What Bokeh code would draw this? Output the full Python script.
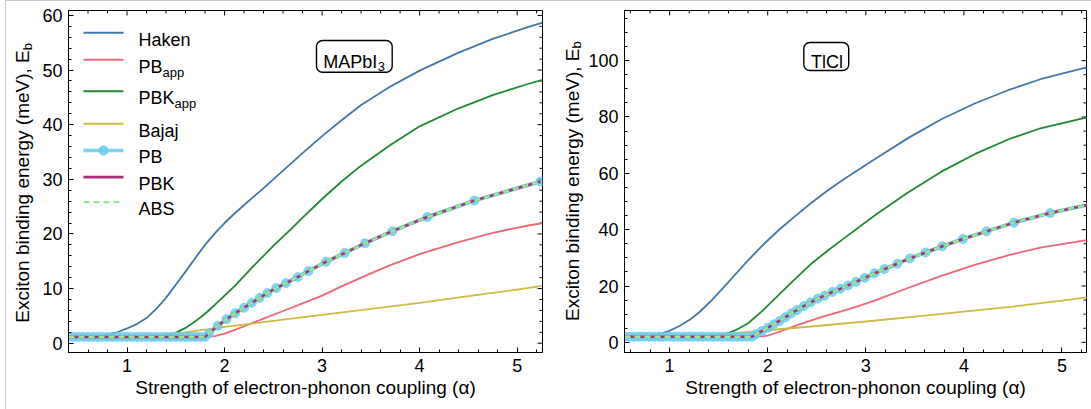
import math
from bokeh.plotting import figure
from bokeh.models import Range1d, SingleIntervalTicker, Label, BoxAnnotation
from bokeh.layouts import row
from bokeh.embed import file_html
from bokeh.resources import INLINE
from bokeh.core.properties import value

FONT = "Liberation Sans"

# ---------------- data: MAPbI3 (left panel) ----------------
mapi_haken_x = [0.40, 0.60, 0.70, 0.80, 0.90, 1.00, 1.10, 1.20, 1.30, 1.40, 1.50, 1.60, 1.70, 1.80, 1.90,
                2.00, 2.10, 2.20, 2.40, 2.60, 2.80, 3.00, 3.20, 3.40, 3.70, 4.00, 4.40, 4.75, 5.10, 5.26]
mapi_haken_y = [1.16, 1.17, 1.25, 1.55, 2.0, 2.7, 3.5, 4.6, 6.3, 8.3, 10.7, 13.1, 15.6, 18.0, 20.1,
                22.0, 23.7, 25.3, 28.4, 31.6, 34.8, 37.9, 40.8, 43.6, 47.0, 49.9, 53.2, 55.7, 57.8, 58.7]

mapi_pbapp_x = [0.40, 1.80, 1.90, 2.00, 2.10, 2.20, 2.30, 2.40, 2.60, 2.80, 3.00, 3.20, 3.40, 3.70,
                4.00, 4.40, 4.75, 5.10, 5.26]
mapi_pbapp_y = [1.16, 1.16, 1.3, 1.75, 2.4, 3.1, 3.8, 4.5, 5.9, 7.3, 8.7, 10.4, 12.0, 14.3,
                16.3, 18.5, 20.2, 21.5, 22.0]

mapi_pbkapp_x = [0.40, 1.30, 1.40, 1.50, 1.60, 1.70, 1.80, 1.90, 2.00, 2.10, 2.20, 2.30, 2.40, 2.50,
                 2.60, 2.70, 2.80, 3.00, 3.20, 3.40, 3.70, 4.00, 4.40, 4.75, 5.10, 5.26]
mapi_pbkapp_y = [1.16, 1.2, 1.35, 1.9, 2.8, 4.0, 5.4, 7.0, 8.7, 10.4, 12.3, 14.2, 16.0, 17.8,
                 19.5, 21.2, 23.0, 26.4, 29.6, 32.5, 36.3, 39.7, 43.0, 45.4, 47.4, 48.2]

mapi_bajaj_x = [0.40, 0.80, 1.00, 1.20, 1.40, 1.60, 1.80, 2.00, 2.20, 2.60, 3.00, 3.50, 4.00, 4.50, 5.00, 5.26]
mapi_bajaj_y = [1.16, 1.18, 1.22, 1.35, 1.6, 2.0, 2.5, 3.0, 3.4, 4.3, 5.2, 6.3, 7.4, 8.6, 9.8, 10.5]

mapi_pb_x = [0.40, 0.45, 0.50, 0.55, 0.60, 0.65, 0.70, 0.75, 0.80, 0.85, 0.90, 0.95, 1.00, 1.05, 1.10,
             1.15, 1.20, 1.25, 1.30, 1.35, 1.40, 1.45, 1.50, 1.55, 1.60, 1.65, 1.70, 1.75, 1.80,
             1.84, 1.93, 2.02, 2.11, 2.20, 2.28, 2.36, 2.44, 2.53, 2.63, 2.75, 2.86, 3.04, 3.23,
             3.44, 3.72, 4.08, 4.56, 5.24]
mapi_pb_y = [1.16, 1.16, 1.16, 1.16, 1.16, 1.16, 1.16, 1.16, 1.16, 1.16, 1.16, 1.16, 1.16, 1.16, 1.16,
             1.16, 1.16, 1.16, 1.16, 1.16, 1.16, 1.16, 1.16, 1.16, 1.16, 1.16, 1.16, 1.16, 1.16,
             1.8, 3.2, 4.4, 5.5, 6.5, 7.4, 8.3, 9.2, 10.1, 11.0, 12.1, 13.2, 14.9, 16.5,
             18.3, 20.5, 23.1, 26.1, 29.6]
mapi_pbk_y = [1.16, 1.16, 1.16, 1.16, 1.16, 1.16, 1.16, 1.16, 1.16, 1.16, 1.16, 1.16, 1.16, 1.16, 1.16,
              1.16, 1.16, 1.16, 1.16, 1.16, 1.16, 1.16, 1.16, 1.16, 1.16, 1.16, 1.16, 1.16, 1.16,
              1.8, 3.2, 4.4, 5.5, 6.5, 7.4, 8.3, 9.2, 10.1, 11.0, 12.1, 13.2, 14.9, 16.5,
              18.3, 20.5, 23.1, 26.1, 29.6]
mapi_abs_y = [1.16, 1.16, 1.16, 1.16, 1.16, 1.16, 1.16, 1.16, 1.16, 1.16, 1.16, 1.16, 1.16, 1.16, 1.16,
              1.16, 1.16, 1.16, 1.16, 1.16, 1.16, 1.16, 1.16, 1.16, 1.16, 1.16, 1.16, 1.16, 1.16,
              1.8, 3.2, 4.4, 5.5, 6.5, 7.4, 8.3, 9.2, 10.1, 11.0, 12.1, 13.2, 14.9, 16.5,
              18.3, 20.5, 23.1, 26.1, 29.6]

# ---------------- data: TlCl (right panel) ----------------
tlcl_haken_x = [0.54, 0.70, 0.80, 0.90, 1.00, 1.10, 1.20, 1.30, 1.43, 1.60, 1.77, 1.94, 2.11, 2.28, 2.44,
                2.61, 2.75, 2.85, 3.09, 3.43, 3.77, 4.11, 4.45, 4.78, 5.19, 5.26]
tlcl_haken_y = [2.0, 2.05, 2.4, 3.0, 4.1, 5.8, 7.9, 10.6, 15.0, 21.4, 28.0, 34.2, 39.8, 44.8, 49.4,
                53.9, 57.3, 59.6, 65.0, 72.5, 79.2, 84.8, 89.5, 93.4, 97.1, 97.6]

tlcl_pbapp_x = [0.54, 1.84, 1.94, 2.00, 2.10, 2.20, 2.30, 2.40, 2.50, 2.60, 2.75, 2.90, 3.09, 3.43,
                3.77, 4.11, 4.45, 4.78, 5.19, 5.26]
tlcl_pbapp_y = [2.0, 2.0, 2.1, 2.4, 3.5, 4.8, 6.1, 7.3, 8.4, 9.5, 11.0, 12.6, 14.8, 19.3,
                23.6, 27.5, 30.9, 33.6, 35.9, 36.3]

tlcl_pbkapp_x = [0.54, 1.45, 1.50, 1.60, 1.70, 1.80, 1.94, 2.11, 2.28, 2.44, 2.61, 2.75, 3.09, 3.43,
                 3.77, 4.11, 4.45, 4.78, 5.19, 5.26]
tlcl_pbkapp_y = [2.0, 2.05, 2.3, 3.3, 4.8, 6.8, 11.0, 16.8, 22.5, 27.8, 32.5, 36.2, 45.0, 53.2,
                 60.6, 66.8, 72.0, 76.0, 79.3, 79.8]

tlcl_bajaj_x = [0.54, 1.00, 1.30, 1.60, 1.80, 2.00, 2.50, 3.00, 3.50, 4.00, 4.50, 5.00, 5.26]
tlcl_bajaj_y = [2.0, 2.1, 2.4, 3.0, 3.7, 4.3, 5.8, 7.4, 9.1, 10.9, 12.7, 14.8, 16.0]

tlcl_pb_x = [0.54, 0.59, 0.64, 0.69, 0.74, 0.79, 0.84, 0.89, 0.94, 0.99, 1.04, 1.09, 1.14, 1.19,
             1.24, 1.29, 1.34, 1.39, 1.44, 1.49, 1.54, 1.59, 1.64, 1.69, 1.74, 1.79, 1.84,
             1.88, 1.94, 2.00, 2.06, 2.12, 2.18, 2.24, 2.30, 2.37, 2.44, 2.51, 2.58, 2.66, 2.74,
             2.82, 2.90, 2.99, 3.09, 3.19, 3.32, 3.45, 3.61, 3.78, 3.99, 4.23, 4.51, 4.88, 5.30]
tlcl_pb_y = [2.0, 2.0, 2.0, 2.0, 2.0, 2.0, 2.0, 2.0, 2.0, 2.0, 2.0, 2.0, 2.0, 2.0,
             2.0, 2.0, 2.0, 2.0, 2.0, 2.0, 2.0, 2.0, 2.0, 2.0, 2.0, 2.0, 2.0,
             2.9, 4.0, 5.2, 6.4, 7.6, 8.9, 10.3, 11.5, 12.9, 14.2, 15.5, 16.6, 17.9, 19.0,
             20.2, 21.5, 22.9, 24.5, 26.0, 27.9, 29.8, 31.9, 34.1, 36.7, 39.4, 42.5, 45.9, 49.1]
tlcl_pbk_y = list(tlcl_pb_y)
tlcl_abs_y = list(tlcl_pb_y)

# ---------------- texts ----------------
X_TITLE = "Strength of electron-phonon coupling (α)"
Y_TITLE = "Exciton binding energy (meV), E"
Y_TITLE_SUB = "b"
LEGEND = [("Haken", ""), ("PB", "app"), ("PBK", "app"), ("Bajaj", ""), ("PB", ""), ("PBK", ""), ("ABS", "")]

C_HAKEN = "#4477AA"
C_PBAPP = "#EE6677"
C_PBKAPP = "#228833"
C_BAJAJ = "#CCBB44"
C_PB = "#66CCEE"
C_PBK = "#AA3377"
C_ABS = "#90EE90"

PAGE_TOP = 1
PAGE_H = 408


class Geo:
    """maps page pixel positions (annotation layout only) to data coordinates"""
    def __init__(self, fl, ft, fr, fb, xr, yr):
        self.fl, self.ft, self.fr, self.fb, self.xr, self.yr = fl, ft, fr, fb, xr, yr

    def x(self, gx):
        return self.xr[0] + (gx - self.fl) / (self.fr - self.fl) * (self.xr[1] - self.xr[0])

    def y(self, gy):
        return self.yr[1] - (gy - self.ft) / (self.fb - self.ft) * (self.yr[1] - self.yr[0])

    def dx(self, px):
        return px / (self.fr - self.fl) * (self.xr[1] - self.xr[0])

    def dy(self, px):
        return px / (self.fb - self.ft) * (self.yr[1] - self.yr[0])


def style_axis(ax, ticker):
    ax.ticker = ticker
    ax.axis_line_color = "black"
    ax.axis_line_width = 1
    ax.major_tick_line_color = "black"
    ax.minor_tick_line_color = "black"
    ax.major_tick_in = 5
    ax.major_tick_out = 0
    ax.minor_tick_in = 3
    ax.minor_tick_out = 0
    ax.major_label_text_font = FONT
    ax.major_label_text_font_size = "18px"
    ax.major_label_text_color = "black"
    ax.major_label_standoff = 6


def title_strip(gx0, width, title_x, frame_top, frame_bottom):
    """narrow figure (page-pixel coordinates) holding the rotated y-axis title"""
    s = figure(width=width, height=PAGE_H, x_range=Range1d(gx0, gx0 + width),
               y_range=Range1d(PAGE_TOP + PAGE_H, PAGE_TOP), output_backend="svg",
               toolbar_location=None, x_axis_type=None, y_axis_type=None,
               min_border=0, min_border_left=0, min_border_right=0,
               min_border_top=0, min_border_bottom=0)
    s.outline_line_color = None
    s.xgrid.visible = False
    s.ygrid.visible = False
    s.background_fill_color = "white"
    s.border_fill_color = "white"
    anchor = (frame_top + frame_bottom) / 2 - 132.6
    s.text(x=[title_x], y=[anchor], text=[Y_TITLE], angle=math.pi / 2, text_align="right",
           text_baseline="alphabetic", text_font=value(FONT), text_font_size=value("19px"),
           text_color="black")
    s.text(x=[title_x + 4.5], y=[anchor], text=[Y_TITLE_SUB], angle=math.pi / 2, text_align="left",
           text_baseline="alphabetic", text_font=value(FONT), text_font_size=value("13px"),
           text_color="black")
    return s


def make_panel(width, ox, frame, xr, yr, y_interval, y_minor, series, pb, box, legend_rows):
    fl, ft, fr, fb = frame
    oy = PAGE_TOP
    p = figure(width=width, height=PAGE_H, x_range=Range1d(*xr), y_range=Range1d(*yr),
               output_backend="svg", toolbar_location=None,
               min_border_left=fl - ox, min_border_right=ox + width - fr,
               min_border_top=ft - oy, min_border_bottom=oy + PAGE_H - fb)
    p.xgrid.visible = False
    p.ygrid.visible = False
    p.outline_line_color = "black"
    p.background_fill_color = "white"
    p.border_fill_color = "white"

    style_axis(p.xaxis[0], SingleIntervalTicker(interval=1, num_minor_ticks=5))
    style_axis(p.yaxis[0], SingleIntervalTicker(interval=y_interval, num_minor_ticks=y_minor))
    p.xaxis.axis_label = X_TITLE
    p.xaxis.axis_label_text_font = FONT
    p.xaxis.axis_label_text_font_size = "19px"
    p.xaxis.axis_label_text_font_style = "normal"
    p.xaxis.axis_label_text_color = "black"
    p.xaxis.axis_label_standoff = 2

    g = Geo(fl, ft, fr, fb, xr, yr)

    # mirrored inward ticks on the top and right edges
    xmaj = [k for k in range(1, 6)]
    xmin = [round(0.2 * k, 1) for k in range(1, 27) if (k % 5) and xr[0] <= 0.2 * k <= xr[1]]
    ystep = y_interval / y_minor
    ymaj = [y_interval * k for k in range(0, 7) if y_interval * k <= yr[1]]
    ymin = [round(ystep * k, 3) for k in range(0, 40) if (k % y_minor) and ystep * k <= yr[1]]
    tx = xmaj + xmin
    tlen = [g.dy(5)] * len(xmaj) + [g.dy(3)] * len(xmin)
    p.segment(x0=tx, y0=[yr[1]] * len(tx), x1=tx, y1=[yr[1] - t for t in tlen],
              line_color="black", line_width=1)
    ty = ymaj + ymin
    tlen = [g.dx(5)] * len(ymaj) + [g.dx(3)] * len(ymin)
    p.segment(x0=[xr[1]] * len(ty), y0=ty, x1=[xr[1] - t for t in tlen], y1=ty,
              line_color="black", line_width=1)

    for (xs, ys, col) in series:
        p.line(xs, ys, line_color=col, line_width=1.8)

    pbx, pby, pbky, absy = pb
    p.line(pbx, pby, line_color=C_PB, line_width=4, line_alpha=0.85)
    mx = [v for v in pbx if v <= xr[1]]
    my = [pby[i] for i, v in enumerate(pbx) if v <= xr[1]]
    p.scatter(mx, my, size=9, fill_color=C_PB, line_color=C_PB, fill_alpha=0.8, line_alpha=0.8)
    p.line(pbx, pbky, line_color=C_PBK, line_width=2.5)
    p.line(pbx, absy, line_color=C_ABS, line_width=2.5, line_dash="6 4")

    # material box
    (bl, bt, br, bb), main, sub, tx0, tb = box
    p.add_layout(BoxAnnotation(left=g.x(bl), right=g.x(br), top=g.y(bt), bottom=g.y(bb),
                               fill_color="white", fill_alpha=1.0, line_color="black",
                               line_alpha=1.0, line_width=1.4, border_radius=6))
    p.add_layout(Label(x=g.x(tx0), y=g.y(tb), text=main, text_align="left", text_baseline="alphabetic",
                       text_font=FONT, text_font_size="18px", text_color="black"))
    if sub:
        p.add_layout(Label(x=g.x(tx0 + 54.5), y=g.y(tb + 3.8), text=sub, text_align="left",
                           text_baseline="alphabetic", text_font=FONT, text_font_size="13px",
                           text_color="black"))

    # legend (left panel only)
    if legend_rows:
        cols = [C_HAKEN, C_PBAPP, C_PBKAPP, C_BAJAJ, C_PB, C_PBK, C_ABS]
        lx0, lx1, ltx = 83, 123, 138
        main_w = {"PB": 24.0, "PBK": 36.0}
        for (name, s), col, ry in zip(LEGEND, cols, legend_rows):
            ys = [g.y(ry), g.y(ry)]
            xs = [g.x(lx0), g.x(lx1)]
            if name == "PB" and not s:
                p.line(xs, ys, line_color=C_PB, line_width=3.5, line_alpha=0.85)
                p.scatter([g.x((lx0 + lx1) / 2)], [g.y(ry)], size=9, fill_color=C_PB,
                          line_color=C_PB, fill_alpha=0.85)
            elif name == "ABS":
                p.line(xs, ys, line_color=col, line_width=2.2, line_dash="6 4")
            elif name == "PBK" and not s:
                p.line(xs, ys, line_color=col, line_width=2.8)
            else:
                p.line(xs, ys, line_color=col, line_width=2)
            p.add_layout(Label(x=g.x(ltx), y=g.y(ry + 6.7), text=name, text_align="left",
                               text_baseline="alphabetic", text_font=FONT, text_font_size="18px",
                               text_color="black"))
            if s:
                p.add_layout(Label(x=g.x(ltx + main_w[name]), y=g.y(ry + 12.5), text=s,
                                   text_align="left", text_baseline="alphabetic", text_font=FONT,
                                   text_font_size="13px", text_color="black"))
    return p


# page layout (pixels): border at x=5, left strip 6-36, left plot 36-545, right strip 545-585, right plot 585-1091
strip_l = title_strip(6, 30, 22, 10, 352)
left = make_panel(
    509, 36, (68, 10, 542, 352), (0.40, 5.26), (-1.7, 60.9), 10, 5,
    [(mapi_haken_x, mapi_haken_y, C_HAKEN), (mapi_pbapp_x, mapi_pbapp_y, C_PBAPP),
     (mapi_pbkapp_x, mapi_pbkapp_y, C_PBKAPP), (mapi_bajaj_x, mapi_bajaj_y, C_BAJAJ)],
    (mapi_pb_x, mapi_pb_y, mapi_pbk_y, mapi_abs_y),
    ((316, 40, 391.7, 71.7), "MAPbI", "3", 322.7, 61.7),
    [32.3, 59.3, 90.7, 123.3, 150, 176.7, 201.7])

strip_r = title_strip(545, 40, 571.5, 6, 352)
right = make_panel(
    506, 585, (623, 6, 1086, 352), (0.54, 5.25), (-3.6, 117.8), 20, 4,
    [(tlcl_haken_x, tlcl_haken_y, C_HAKEN), (tlcl_pbapp_x, tlcl_pbapp_y, C_PBAPP),
     (tlcl_pbkapp_x, tlcl_pbkapp_y, C_PBKAPP), (tlcl_bajaj_x, tlcl_bajaj_y, C_BAJAJ)],
    (tlcl_pb_x, tlcl_pb_y, tlcl_pbk_y, tlcl_abs_y),
    ((802.7, 38.3, 847.7, 66.7), "TlCl", "", 810, 57.7),
    None)

layout = row(strip_l, left, strip_r, right,
             styles={"border-top": "1px solid #c8c8c8", "border-left": "1px solid #c8c8c8",
                     "margin-left": "5px"})

open("out.html", "w").write(file_html(layout, INLINE))
